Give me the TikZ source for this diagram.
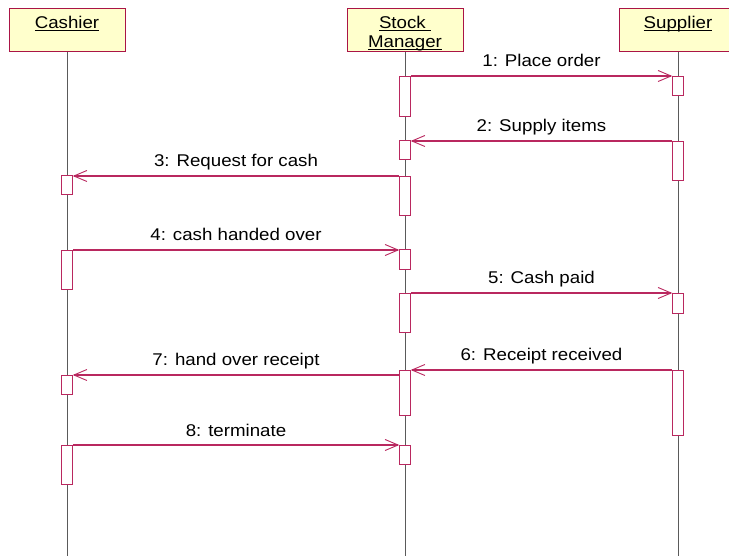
\documentclass[tikz,border=0pt]{standalone}
\usepackage{fontspec}
\setmainfont[FakeStretch=1.1]{Liberation Sans}
\usetikzlibrary{arrows.meta}
\definecolor{umlred}{RGB}{170,20,70}
\definecolor{msgred}{RGB}{185,40,95}
\definecolor{headfill}{RGB}{255,255,204}
\definecolor{lifegray}{RGB}{90,90,90}
\newcommand\hdul[1]{\leavevmode\setbox0\hbox{#1}\rlap{\rule[-3pt]{\wd0}{0.9pt}}\box0}
\begin{document}
\begin{tikzpicture}[x=1pt,y=-1pt,font=\fontsize{17}{19}\selectfont,
  head/.style={draw=umlred, fill=headfill, line width=1pt, inner sep=0pt},
  act/.style={draw=msgred, fill=white, line width=1pt, minimum width=10.5pt, inner sep=0pt, anchor=north},
  life/.style={draw=lifegray, line width=0.9pt},
  msg/.style={draw=msgred, line width=1.1pt, -{Straight Barb[length=13pt,width=11pt,line width=0.9pt]}},
  lbl/.style={anchor=base, yshift=9pt, text=black}]
\useasboundingbox (0,0) rectangle (729,556);
\coordinate (bottom) at (0,556);
% heads
\node[head] (cashier) at (67,30.5) {\parbox[c][43pt][t]{116pt}{\centering\vspace*{7pt}\hdul{Cashier}}};
\node[head] (stock) at (405,30.5) {\parbox[c][43pt][t]{116pt}{\centering\vspace*{7pt}\hdul{Stock~}\\\hdul{Manager}}};
\node[head] (supplier) at (678,30.5) {\parbox[c][43pt][t]{118pt}{\centering\vspace*{7pt}\hdul{Supplier}}};
% lifelines
\draw[life] (cashier.south) -- (cashier.south |- bottom);
\draw[life] (stock.south) -- (stock.south |- bottom);
\draw[life] (supplier.south) -- (supplier.south |- bottom);
% activations: stock
\node[act, minimum height=40pt] (s1) at (405,76) {};
\node[act, minimum height=19pt] (s2) at (405,140) {};
\node[act, minimum height=39pt] (s3) at (405,176) {};
\node[act, minimum height=20pt] (s4) at (405,249) {};
\node[act, minimum height=39pt] (s5) at (405,293) {};
\node[act, minimum height=45pt] (s6) at (405,370) {};
\node[act, minimum height=19pt] (s7) at (405,445) {};
% supplier
\node[act, minimum height=19pt] (p1) at (678,76) {};
\node[act, minimum height=39pt] (p2) at (678,141) {};
\node[act, minimum height=20pt] (p3) at (678,293) {};
\node[act, minimum height=65pt] (p4) at (678,370) {};
% cashier
\node[act, minimum height=19pt] (c1) at (67,175) {};
\node[act, minimum height=39pt] (c2) at (67,250) {};
\node[act, minimum height=19pt] (c3) at (67,375) {};
\node[act, minimum height=39pt] (c4) at (67,445) {};
% messages
\draw[msg] (s1.north east) -- (s1.north east -| p1.west) node[lbl, midway] {1: Place order};
\draw[msg] (p2.north west) -- (p2.north west -| s2.east) node[lbl, midway] {2: Supply items};
\draw[msg] (s3.north west) -- (s3.north west -| c1.east) node[lbl, midway] {3: Request for cash};
\draw[msg] (c2.north east) -- (c2.north east -| s4.west) node[lbl, midway] {4: cash handed over};
\draw[msg] (s5.north east) -- (s5.north east -| p3.west) node[lbl, midway] {5: Cash paid};
\draw[msg] (p4.north west) -- (p4.north west -| s6.east) node[lbl, midway] {6: Receipt received};
\draw[msg] (c3.north east -| s6.west) -- (c3.north east) node[lbl, midway] {7: hand over receipt};
\draw[msg] (c4.north east) -- (c4.north east -| s7.west) node[lbl, midway] {8: terminate};
\end{tikzpicture}
\end{document}
